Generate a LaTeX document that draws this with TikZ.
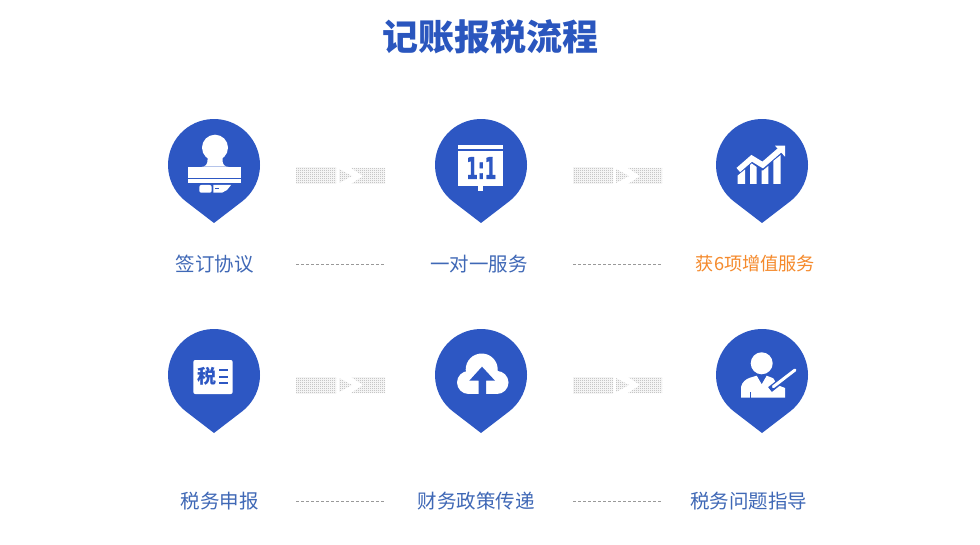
\documentclass[tikz,border=0pt]{standalone}
\usepackage{fontspec}
\setmainfont{Noto Sans CJK SC}
\newfontfamily\iconfont[FakeBold=1.5]{DejaVu Sans Bold}
\usetikzlibrary{patterns}
\pgfdeclarepatternformonly{chk}{\pgfpointorigin}{\pgfqpoint{2pt}{2pt}}{\pgfqpoint{2pt}{2pt}}{%
  \pgfpathrectangle{\pgfpointorigin}{\pgfqpoint{1pt}{1pt}}%
  \pgfpathrectangle{\pgfqpoint{1pt}{1pt}}{\pgfqpoint{1pt}{1pt}}%
  \pgfusepath{fill}}
\definecolor{pinblue}{HTML}{2D57C3}
\definecolor{titleblue}{HTML}{2A56BE}
\definecolor{labelblue}{HTML}{3F68B6}
\definecolor{labelorange}{HTML}{F58A2C}
\definecolor{hatchgray}{HTML}{A8A8A8}
\definecolor{dashgray}{HTML}{999999}
\tikzset{
  pinshape/.style={fill=pinblue,draw=none},
  wh/.style={fill=white,draw=none},
  bl/.style={fill=pinblue,draw=none},
  lab/.style={font=\fontsize{19.5pt}{19.5pt}\selectfont,text=labelblue,inner sep=0pt,anchor=center},
  hatch/.style={pattern=chk,pattern color=hatchgray,draw=none},
  sep/.style={draw=dashgray,line width=0.7pt,dash pattern=on 3pt off 2pt},
}
\newcommand{\pinat}[3]{%
  \coordinate (#1) at (#2,#3);
  \path[pinshape] (#2,#3+58) -- ++(-28,-21.5) arc[start angle=232.5,end angle=-52.5,radius=46pt] -- cycle;
}
\newcommand{\arrowband}[3]{%
  \coordinate (#1) at (#2,#3);
  \begin{scope}[shift={(#2,#3)}]
    \path[hatch] (0,0) rectangle (40,16);
    \path[hatch] (43,1) -- (56,8) -- (43,15) -- cycle;
    \path[hatch] (55,0) -- (67,8) -- (55,16) -- (89,16) -- (89,0) -- cycle;
  \end{scope}
}
\begin{document}
\begin{tikzpicture}[x=1pt,y=-1pt]
\useasboundingbox (0,0) rectangle (980,545);
\fill[white] (0,0) rectangle (980,545);
\node[inner sep=0pt,text=titleblue,font=\fontsize{36pt}{36pt}\selectfont\bfseries] (title) at (490.5,37) {记账报税流程};

\pinat{p1}{214}{165}
\pinat{p2}{481}{165}
\pinat{p3}{762}{165}
\pinat{p4}{214}{375}
\pinat{p5}{481}{375}
\pinat{p6}{762}{375}

% stamp
\begin{scope}[shift={(p1)}]
  \path[wh] (1,-17.3) circle[radius=13pt];
  \path[wh] (-6.5,-12) -- (-6.5,-5) .. controls (-6.5,-1) and (-8,1.7) .. (-12.5,1.7) -- (14.5,1.7) .. controls (10,1.7) and (8.5,-1) .. (8.5,-5) -- (8.5,-12) -- cycle;
  \path[wh] (-25.7,1.7) rectangle (26.7,12.7);
  \path[wh] (-25.7,14) rectangle (26.7,18.3);
  \path[wh,rounded corners=2pt] (-14.7,20) rectangle (-2.3,27.7);
  \path[wh] (-0.7,20) -- (17,20) -- (13,25) -- (8,27.7) -- (-0.7,27.7) -- cycle;
  \path[bl] (1,23) rectangle (5,24);
\end{scope}

% 1:1 board
\begin{scope}[shift={(p2)}]
  \path[wh] (-22.7,-20) rectangle (22.3,-15.7);
  \path[wh] (-22.7,-14) rectangle (22.3,20.7);
  \path[wh] (-2.7,20) rectangle (2.3,26);
  \node[inner sep=0pt,text=pinblue,xscale=.56,font=\iconfont\fontsize{30pt}{30pt}\selectfont] (oneone) at (0.3,3) {1:1};
\end{scope}

% chart
\begin{scope}[shift={(p3)}]
  \path[wh] (-24.3,19) -- (-24.3,10.5) -- (-17,4.5) -- (-17,19) -- cycle;
  \path[wh] (-12,19) -- (-12,0) -- (-10.3,-1.5) -- (-5.3,2) -- (-5.3,19) -- cycle;
  \path[wh] (-0.3,19) -- (-0.3,5.5) -- (1,5.5) -- (6.3,1) -- (6.3,19) -- cycle;
  \path[wh] (11.3,19) -- (11.3,-4) -- (18.7,-10) -- (18.7,19) -- cycle;
  \draw[white,line width=5.5pt,line join=miter] (-23.7,5) -- (-10.3,-6.7) -- (0.7,0) -- (18,-15);
  \path[wh] (13,-19.3) -- (23,-19.3) -- (23,-8.3) -- cycle;
\end{scope}

% tax card
\begin{scope}[shift={(p4)}]
  \path[wh,rounded corners=2pt] (-20.7,-15) rectangle (18.7,19);
  \node[inner sep=0pt,text=pinblue,font=\fontsize{19pt}{19pt}\selectfont\bfseries] (shui) at (-7,1.7) {税};
  \draw[pinblue,line width=2pt] (5,-5) -- (13.7,-5);
  \draw[pinblue,line width=2pt] (5,1.7) -- (13.7,1.7);
  \draw[pinblue,line width=2pt] (5,7.7) -- (13.7,7.7);
\end{scope}

% cloud
\begin{scope}[shift={(p5)}]
  \path[wh] (0.7,-5.5) circle[radius=16pt];
  \path[wh] (-12.5,7.5) circle[radius=11.5pt];
  \path[wh] (16,7.5) circle[radius=11.5pt];
  \path[wh] (-12.5,0) rectangle (16,19);
  \path[wh] (-17,0) -- (-13,-6) -- (14,-6) -- (20,-2) -- (16,5) -- cycle;
  \path[bl] (-11.7,5.7) -- (1,-8.3) -- (14,5.7) -- (5,5.7) -- (5,19.5) -- (-2.3,19.5) -- (-2.3,5.7) -- cycle;
\end{scope}

% person
\begin{scope}[shift={(p6)}]
  \path[wh] (-0.3,-11.7) circle[radius=11pt];
  \path[wh] (-21,22.7) -- (-21,12) .. controls (-20,7) and (-16,4) .. (-12,2.7) -- (-5.3,0.7) -- (-0.3,9.3) -- (4.7,0.7) -- (11.3,3.3) .. controls (12.5,4.5) and (13.5,7) .. (13.7,9.3) -- (23,13) -- (23,22.7) -- cycle;
  \draw[pinblue,line width=6pt] (8,14.5) -- (33,-5);
  \draw[white,line width=3pt,line cap=round] (11.3,11.7) -- (33,-5);
  \path[bl] (-12.5,16.7) rectangle (-11.5,23);
\end{scope}

\arrowband{a1}{296}{168}
\arrowband{a2}{573}{168}
\arrowband{a3}{296}{377}
\arrowband{a4}{573}{377}

\node[lab] (l1) at (214.5,264) {签订协议};
\node[lab] (l2) at (479,264) {一对一服务};
\node[lab,text=labelorange,font=\fontsize{18.2pt}{18.2pt}\selectfont] (l3) at (755.5,264) {获6项增值服务};
\node[lab] (l4) at (219.5,501) {税务申报};
\node[lab] (l5) at (476,501) {财务政策传递};
\node[lab] (l6) at (748.5,501) {税务问题指导};

\coordinate (d1a) at (296,264); \coordinate (d1b) at (385,264);
\coordinate (d2a) at (573,264); \coordinate (d2b) at (662,264);
\coordinate (d3a) at (296,501); \coordinate (d3b) at (385,501);
\coordinate (d4a) at (573,501); \coordinate (d4b) at (662,501);
\draw[sep] (d1a) -- (d1b);
\draw[sep] (d2a) -- (d2b);
\draw[sep] (d3a) -- (d3b);
\draw[sep] (d4a) -- (d4b);
\end{tikzpicture}
\end{document}
